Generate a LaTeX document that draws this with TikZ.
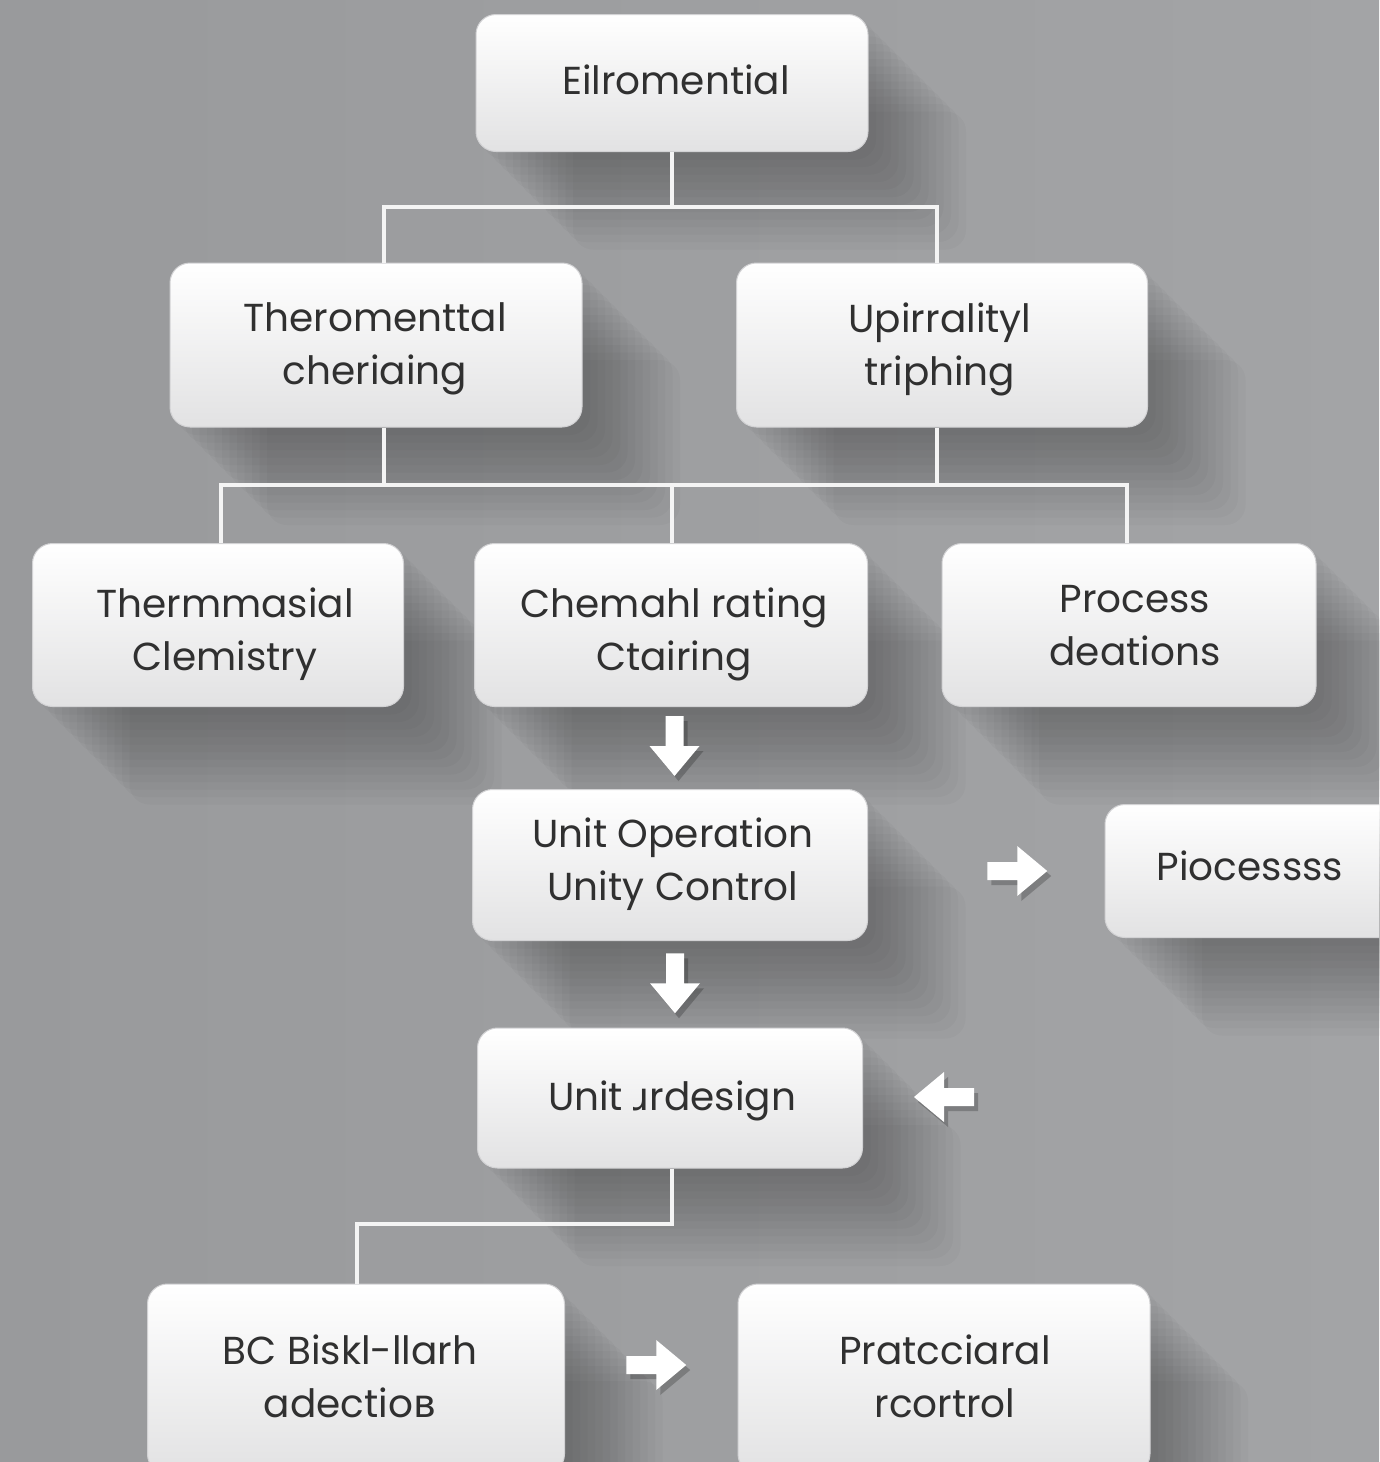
\documentclass[tikz,border=0pt]{standalone}
\usepackage{fontspec}
\setmainfont{Poppins}
\newfontfamily\fbfont{DejaVu Sans}
\usetikzlibrary{calc,backgrounds}
\definecolor{bgcol}{HTML}{9E9FA1}
\definecolor{bgleft}{HTML}{999A9C}
\definecolor{bgright}{HTML}{A3A4A6}
\definecolor{boxbot}{HTML}{E2E2E3}
\definecolor{boxrim}{HTML}{D2D2D4}
\definecolor{txt}{HTML}{303030}
\definecolor{linecol}{HTML}{F4F4F4}
\pgfdeclarelayer{shadowlayer}
\pgfsetlayers{background,shadowlayer,main}
\tikzset{
  card/.style={rectangle, rounded corners=20pt, inner sep=0pt,
    top color=white, bottom color=boxbot, draw=boxrim, line width=1pt},
  cardtext/.style={inner sep=0pt, align=center, text=txt,
    font=\fontsize{39}{53}\selectfont},
  conn/.style={draw=linecol, line width=3.5pt},
  blockarrow/.pic={
    \path[pic actions] (-30,-9) -- (0,-9) -- (0,-25) -- (30,0) -- (0,25) -- (0,9) -- (-30,9) -- cycle;
  },
}
\newcommand{\longshadow}[1]{%
  \foreach \k in {1,...,13}{%
    \fill[black, opacity=0.025, rounded corners=20pt]
      ([shift={(\k*7.5,\k*7.5)}]#1.north west) rectangle ([shift={(\k*7.5,\k*7.5)}]#1.south east);
  }%
}
\begin{document}
\begin{tikzpicture}[x=1pt,y=-1pt]
\useasboundingbox (0,0) rectangle (1379,1462);
\clip (0,0) rectangle (1379,1462);
\begin{pgfonlayer}{background}
  \shade[left color=bgleft, right color=bgright] (0,0) rectangle (1379,1462);
\end{pgfonlayer}

% boxes
\node[card, minimum width=392, minimum height=137] (n1) at (672,83) {};
\node[card, minimum width=412, minimum height=164] (n2) at (376,345) {};
\node[card, minimum width=411, minimum height=164] (n3) at (942,345) {};
\node[card, minimum width=371, minimum height=163] (n4) at (218,625) {};
\node[card, minimum width=393, minimum height=163] (n5) at (671,625) {};
\node[card, minimum width=374, minimum height=163] (n6) at (1129,625) {};
\node[card, minimum width=395, minimum height=151] (n7) at (670,865) {};
\node[card, minimum width=296, minimum height=133] (n8) at (1253,871) {};
\node[card, minimum width=385, minimum height=140] (n9) at (670,1098) {};
\node[card, minimum width=417, minimum height=190] (n10) at (356,1379) {};
\node[card, minimum width=412, minimum height=190] (n11) at (944,1379) {};

% texts
\node[cardtext] (t1) at ($(n1)+(4,-3)$) {Eilromential};
\node[cardtext] (t2) at ($(n2)+(-1,4)$) {Theromenttal\\cheriaing};
\node[cardtext] (t3) at ($(n3)+(-2,4)$) {Upirralityl\\triphing};
\node[cardtext] (t4) at ($(n4)+(7,9)$) {Thermmasial\\Clemistry};
\node[cardtext] (t5) at ($(n5)+(3,9)$) {Chemahl rating\\Ctairing};
\node[cardtext] (t6) at ($(n6)+(6,1)$) {Process\\deations};
\node[cardtext] (t7) at ($(n7)+(3,-1)$) {Unit Operation\\Unity Control};
\node[cardtext] (t8) at ($(n8)+(-3,-5)$) {Piocessss};
\node[cardtext] (t9) at ($(n9)+(2,3)$) {Unit {\fbfont ɹ}rdesign};
\node[cardtext] (t10) at ($(n10)+(-6,-3)$) {BC Biskl-llarh\\adectio{\fbfont в}};
\node[cardtext] (t11) at ($(n11)+(1,-3)$) {Pratcciaral\\rcortrol};

% shadows
\begin{pgfonlayer}{shadowlayer}
  \foreach \n in {n1,n2,n3,n4,n5,n6,n7,n8,n9,n10,n11}{\longshadow{\n}}
\end{pgfonlayer}

% connectors
\coordinate (bus1) at (672,207);
\coordinate (bus2) at (672,485);
\coordinate (bus3) at (672,1224);
\draw[conn] (n1.south -| bus1) -- (bus1);
\draw[conn] ([xshift=8pt]n2.north) |- (bus1);
\draw[conn] ([xshift=-5pt]n3.north) |- (bus1);
\draw[conn] ([xshift=8pt]n2.south) |- (bus2);
\draw[conn] ([xshift=-5pt]n3.south) |- (bus2);
\draw[conn] ([xshift=3pt]n4.north) |- (bus2);
\draw[conn] (n5.north -| bus2) -- (bus2);
\draw[conn] ([xshift=-2pt]n6.north) |- (bus2);
\draw[conn] (n9.south -| bus3) -- (bus3) -| ([xshift=1pt]n10.north);

% block arrows
\coordinate (a1) at ($(n5.south)!0.5!(n7.north)+(4,-2)$);
\coordinate (a2) at ($(n7.south)!0.5!(n9.north)+(5,-1)$);
\coordinate (a3) at ($(n7.east)!0.5!(n8.west)+(31,3)$);
\coordinate (a4) at ($(n9.east |- n9.center)+(81,-1)$);
\coordinate (a5) at ($(n10.east)!0.5!(n11.west)+(5,-14)$);
\foreach \c/\r in {a1/-90,a2/-90,a3/0,a4/180,a5/0}{
  \pic[fill=black, opacity=0.22, rotate=\r] at ($(\c)+(4,5)$) {blockarrow};
  \pic[fill=white, rotate=\r] at (\c) {blockarrow};
}
\end{tikzpicture}
\end{document}
